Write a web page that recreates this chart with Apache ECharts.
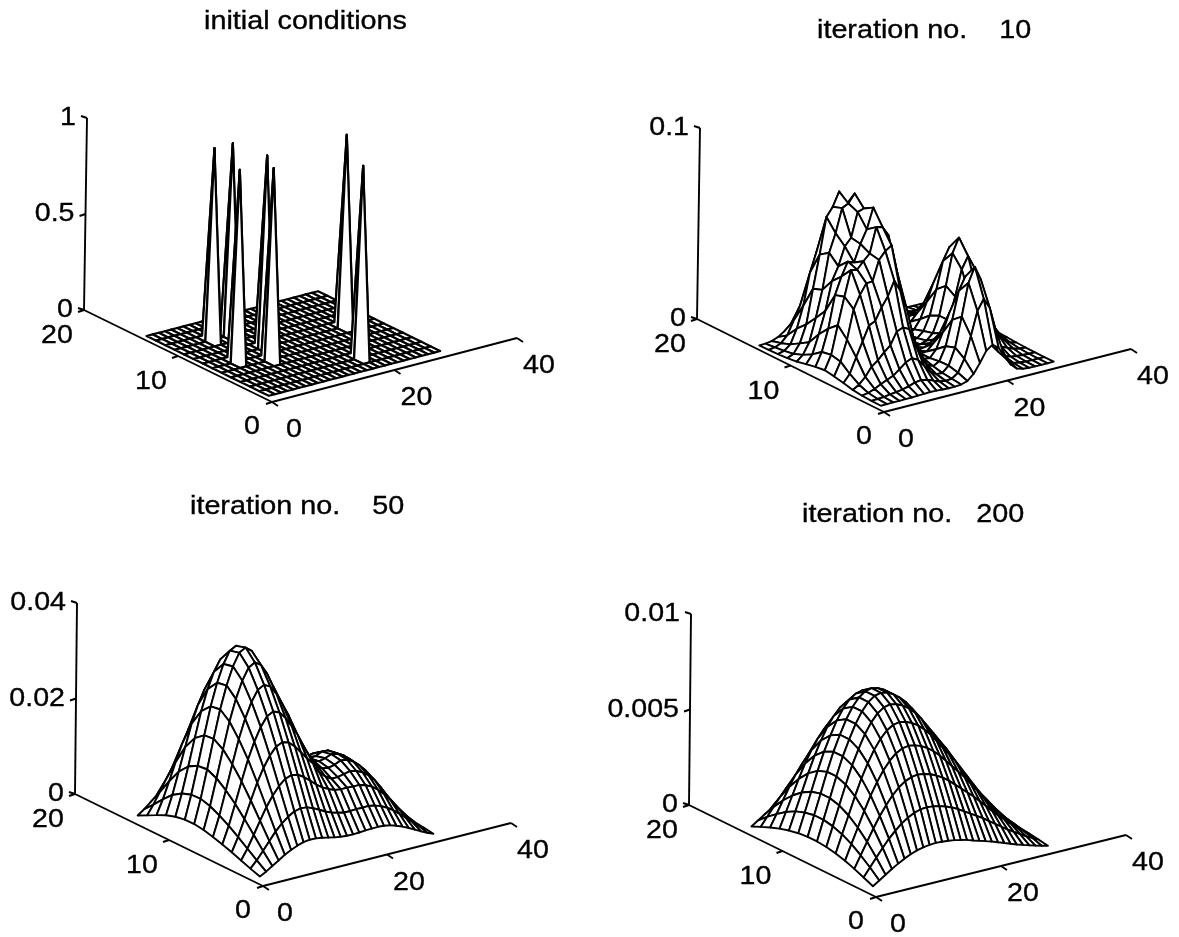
<!DOCTYPE html>
<html><head><meta charset="utf-8">
<style>html,body{margin:0;background:#fff}#c{width:1179px;height:937px}</style>
<script src="https://cdn.jsdelivr.net/npm/echarts@6/dist/echarts.min.js"></script>
</head><body><div id="c"></div><script>
const xTicks=[0,20,40], yTicks=[0,10,20];
const zTicks1=[0,0.5,1], zTicks2=[0,0.1], zTicks3=[0,0.02,0.04], zTicks4=[0,0.005,0.01];
const zTickLabels1=['0','0.5','1'], zTickLabels2=['0','0.1'], zTickLabels3=['0','0.02','0.04'], zTickLabels4=['0','0.005','0.01'];
const titles=['initial conditions','iteration no.    10','iteration no.    50','iteration no.   200'];
const zUnits=[1,1e-4,1e-5,1e-5];
// surface heights: rows are y = 1..14, columns are x = 1..29
const initialZ=[
[0,0,0,0,0,0,0,0,0,0,0,0,0,0,0,0,0,0,0,0,0,0,0,0,0,0,0,0,0],
[0,0,0,0,0,0,0,0,0,0,0,0,0,0,0,0,0,0,0,0,0,0,0,0,0,0,0,0,0],
[0,0,0,0,0,0,0,0,0,0,0,0,0,0,0,0,0,0,1,0,0,0,0,0,0,0,0,0,0],
[0,0,0,0,0,0,0,0,0,0,0,0,0,0,0,0,0,0,0,0,0,0,0,0,0,0,0,0,0],
[0,0,0,0,0,0,0,0,0,0,0,0,0,0,0,0,0,0,0,0,0,0,0,0,0,0,0,0,0],
[0,0,0,0,0,0,0,0,1,0,0,0,0,0,0,0,0,0,0,0,0,0,0,0,0,0,0,0,0],
[0,0,0,0,1,0,0,0,0,0,0,0,0,0,0,0,0,0,0,0,0,0,0,0,0,0,0,0,0],
[0,0,0,0,0,0,0,0,0,0,1,0,0,0,0,0,0,0,0,0,0,0,0,1,0,0,0,0,0],
[0,0,0,0,0,0,0,0,0,0,0,0,0,0,0,0,0,0,0,0,0,0,0,0,0,0,0,0,0],
[0,0,0,0,0,0,0,0,0,0,0,0,0,0,0,0,0,0,0,0,0,0,0,0,0,0,0,0,0],
[0,0,0,0,0,0,1,0,0,1,0,0,0,0,0,0,0,0,0,0,0,0,0,0,0,0,0,0,0],
[0,0,0,0,0,0,0,0,0,0,0,0,0,0,0,0,0,0,0,0,0,0,0,0,0,0,0,0,0],
[0,0,0,0,0,0,0,0,0,0,0,0,0,0,0,0,0,0,0,0,0,0,0,0,0,0,0,0,0],
[0,0,0,0,0,0,0,0,0,0,0,0,0,0,0,0,0,0,0,0,0,0,0,0,0,0,0,0,0]];
const iter10Z=[
[0,0,1,1,2,2,4,5,6,5,3,1,1,4,14,43,92,147,172,147,92,43,14,4,1,0,0,0,0],
[1,3,5,10,14,19,28,39,44,38,25,12,7,10,33,97,208,331,386,331,209,98,35,10,4,1,0,0,0],
[4,10,23,39,53,67,92,120,134,117,78,40,18,16,46,132,286,454,530,455,289,138,54,22,11,6,3,1,0],
[10,29,61,106,132,165,194,257,271,254,168,98,43,27,44,115,245,389,455,393,256,138,77,54,40,24,11,4,1],
[22,61,139,214,289,305,368,417,491,429,337,191,99,41,37,75,154,246,289,256,187,142,135,136,112,70,33,11,3],
[32,101,207,358,426,478,480,584,622,643,492,341,171,78,36,39,72,114,138,137,141,185,252,284,242,152,70,24,6],
[40,112,259,400,531,525,561,593,723,716,664,446,262,107,43,20,26,41,54,77,136,252,386,447,382,241,112,38,9],
[33,103,217,384,473,543,530,619,687,793,694,541,293,134,42,12,8,11,22,53,136,284,447,520,446,281,130,44,11],
[23,66,163,277,425,494,590,627,753,764,734,505,300,121,40,10,3,4,11,40,113,241,382,446,382,241,112,38,9],
[12,39,97,216,355,541,635,758,774,818,664,480,242,103,29,8,1,1,6,24,70,152,241,281,241,152,70,24,6],
[6,20,67,158,336,507,695,740,812,727,619,377,198,70,23,5,0,1,3,11,33,70,111,130,111,70,33,11,3],
[3,11,37,111,223,389,488,580,558,541,399,260,117,45,13,3,0,0,1,4,11,24,38,44,38,24,11,4,1],
[1,5,19,52,121,191,267,283,302,260,210,121,58,19,5,1,0,0,0,1,3,6,9,11,9,6,3,1,0],
[0,1,6,18,39,66,88,98,99,90,68,41,19,6,1,0,0,0,0,0,1,1,2,2,2,1,1,0,0]];
const iter50Z=[
[69,138,222,307,392,460,517,557,576,572,551,523,494,473,462,457,463,474,478,484,472,449,408,355,294,226,157,94,40],
[138,277,443,613,781,916,1026,1104,1137,1123,1074,1008,939,883,846,819,813,823,820,824,799,756,688,598,492,379,265,157,67],
[212,425,680,941,1196,1403,1571,1689,1736,1711,1631,1522,1407,1313,1244,1193,1174,1177,1166,1168,1129,1067,968,841,693,533,371,221,94],
[287,573,916,1268,1612,1888,2112,2269,2329,2291,2177,2021,1857,1717,1500,1380,1300,1300,1330,1360,1330,1270,1170,1039,855,657,458,273,116],
[356,711,1136,1574,1998,2340,2614,2806,2875,2822,2672,2469,2251,1980,1730,1540,1420,1400,1430,1490,1470,1400,1290,1150,960,737,514,306,130],
[415,830,1324,1834,2327,2725,3042,3262,3337,3267,3085,2835,2568,2230,1900,1640,1500,1440,1470,1520,1500,1430,1320,1190,1007,773,540,321,137],
[464,929,1479,2050,2600,3042,3392,3633,3711,3624,3407,3112,2795,2380,1980,1680,1480,1410,1420,1480,1470,1400,1300,1170,976,750,523,310,132],
[494,988,1570,2178,2761,3229,3596,3849,3925,3823,3581,3250,2894,2430,1980,1640,1400,1290,1290,1340,1340,1290,1210,1080,887,681,474,281,120],
[489,978,1552,2154,2730,3191,3551,3797,3866,3758,3509,3168,2800,2330,1870,1520,1270,1130,1120,1150,1160,1120,1060,927,754,578,403,238,102],
[454,909,1441,2001,2534,2962,3292,3519,3579,3472,3233,2907,2553,2120,1680,1360,1110,960,930,950,950,920,875,749,607,465,324,190,81],
[390,781,1237,1717,2173,2540,2822,3015,3063,2967,2758,2470,2158,1859,1430,1120,900,770,730,740,730,741,662,565,456,350,243,143,61],
[296,593,939,1304,1650,1927,2140,2285,2321,2246,2083,1862,1620,1387,1070,830,660,550,520,520,566,508,452,385,310,237,165,96,42],
[193,385,610,847,1072,1252,1390,1483,1505,1455,1348,1201,1042,887,750,627,535,469,411,378,336,299,265,225,181,138,96,56,24],
[94,188,297,413,522,609,676,722,732,707,654,583,504,428,359,298,252,219,190,173,153,135,120,102,80,62,43,25,10]];
const iter200Z=[
[24,46,68,90,110,128,143,155,163,168,170,168,165,160,153,145,134,124,114,104,92,80,68,56,46,36,26,17,9],
[46,90,133,176,216,249,279,302,319,329,332,329,322,312,299,282,262,242,222,203,179,156,133,110,90,70,50,33,17],
[67,129,192,254,311,359,402,436,460,474,479,474,465,450,431,407,378,350,321,292,259,225,192,158,129,101,72,48,24],
[85,164,242,321,394,455,509,551,582,600,606,600,588,570,545,515,479,442,406,370,327,285,242,200,164,127,91,61,30],
[99,191,282,374,459,530,593,642,678,699,706,699,685,664,635,600,558,515,473,431,381,332,282,233,191,148,106,71,35],
[109,209,310,411,504,581,651,705,744,767,775,767,752,729,698,659,612,566,519,473,419,364,310,256,209,163,116,78,39],
[114,219,324,430,527,608,681,738,779,803,811,803,787,762,730,689,641,592,543,495,438,381,324,268,219,170,122,81,41],
[114,219,324,430,527,608,681,738,779,803,811,803,787,762,730,689,641,592,543,495,438,381,324,268,219,170,122,81,41],
[109,209,310,411,504,581,651,705,744,767,775,767,752,729,698,659,612,566,519,473,419,364,310,256,209,163,116,78,39],
[99,191,282,374,459,530,593,642,678,699,706,699,685,664,635,600,558,515,473,431,381,332,282,233,191,148,106,71,35],
[85,164,242,321,394,455,509,551,582,600,606,600,588,570,545,515,479,442,406,370,327,285,242,200,164,127,91,61,30],
[67,129,192,254,311,359,402,436,460,474,479,474,465,450,431,407,378,350,321,292,259,225,192,158,129,101,72,48,24],
[46,90,133,176,216,249,279,302,319,329,332,329,322,312,299,282,262,242,222,203,179,156,133,110,90,70,50,33,17],
[24,46,68,90,110,128,143,155,163,168,170,168,165,160,153,145,134,124,114,104,92,80,68,56,46,36,26,17,9]];

const FONT='"Liberation Sans", Arial, sans-serif';
const panels=[
 {O:[272,402],X:[517,338],Y:[84,310],Z:[87,118],zMax:1,rows:initialZ,unit:zUnits[0],zT:zTicks1,zL:zTickLabels1,title:titles[0],tx:204,ty:22,lw:2.2},
 {O:[884,412],X:[1131,349],Y:[697,319],Z:[700,128],zMax:0.1,rows:iter10Z,unit:zUnits[1],zT:zTicks2,zL:zTickLabels2,title:titles[1],tx:817,ty:31,lw:1.9},
 {O:[263,886],X:[511,823],Y:[75,794],Z:[77,603],zMax:0.04,rows:iter50Z,unit:zUnits[2],zT:zTicks3,zL:zTickLabels3,title:titles[2],tx:190,ty:507,lw:1.9},
 {O:[876,897],X:[1126,835],Y:[689,805],Z:[691,614],zMax:0.01,rows:iter200Z,unit:zUnits[3],zT:zTicks4,zL:zTickLabels4,title:titles[3],tx:802,ty:515,lw:1.9}
];
const grids=[],xAxes=[],yAxes=[],series=[];
panels.forEach((p,k)=>{
  const g={left:p.Y[0],top:p.Z[1],width:p.X[0]-p.Y[0],height:p.O[1]-p.Z[1]};
  grids.push(g);
  xAxes.push({gridIndex:k,type:'value',min:0,max:1,show:false});
  yAxes.push({gridIndex:k,type:'value',min:0,max:1,show:false});
  const proj=(x,y,z)=>{
    const sx=p.O[0]+x/40*(p.X[0]-p.O[0])+y/20*(p.Y[0]-p.O[0])+z/p.zMax*(p.Z[0]-p.Y[0]);
    const sy=p.O[1]+x/40*(p.X[1]-p.O[1])+y/20*(p.Y[1]-p.O[1])+z/p.zMax*(p.Z[1]-p.Y[1]);
    return [(sx-g.left)/g.width,1-(sy-g.top)/g.height];
  };
  // axes, ticks and labels
  const items=[];
  items.push({t:'line',a:[0,0,0],b:[40,0,0]});
  items.push({t:'line',a:[0,0,0],b:[0,20,0]});
  items.push({t:'line',a:[0,20,0],b:[0,20,p.zMax]});
  xTicks.forEach(v=>items.push({t:'tick',a:[v,0,0],d:[6,4],label:String(v),off:[22,28],align:'center'}));
  yTicks.forEach(v=>items.push({t:'tick',a:[0,v,0],d:[-6,2],label:String(v),off:v===0?[-20,25]:[-27,26],align:'center'}));
  p.zT.forEach((v,n)=>{
    const mid=n>0&&n<p.zT.length-1;
    items.push({t:'tick',a:[0,20,v],d:[-6,mid?2:-2],label:p.zL[n],off:[-11,0],align:'right'});
  });
  items.push({t:'title',label:p.title});
  series.push({type:'custom',xAxisIndex:k,yAxisIndex:k,clip:false,silent:true,z:1,
    data:items.map((_,i)=>[i]),
    renderItem(params,api){
      const it=items[params.dataIndex];
      const txt=(x,y,s,size,align,sc)=>({type:'text',x,y,scaleX:sc,style:{text:s,x:0,y:0,font:size+'px '+FONT,align,verticalAlign:'middle',fill:'#000',stroke:'#000',lineWidth:0.35}});
      if(it.t==='title') return txt(p.tx,p.ty,it.label,25,'left',1.15);
      const line=(a,b)=>({type:'line',shape:{x1:a[0],y1:a[1],x2:b[0],y2:b[1]},style:{stroke:'#000',lineWidth:1.9}});
      const A=api.coord(proj(...it.a));
      if(it.t==='line') return line(A,api.coord(proj(...it.b)));
      return {type:'group',children:[
        line(A,[A[0]+it.d[0],A[1]+it.d[1]]),
        txt(A[0]+it.off[0],A[1]+it.off[1],it.label,26,it.align,1.1)]};
    }});
  // surface: quads listed back to front
  const quads=[];
  for(let j=p.rows.length-2;j>=0;j--) for(let i=p.rows[0].length-2;i>=0;i--)
    quads.push([i,j,p.rows[j][i],p.rows[j][i+1],p.rows[j+1][i+1],p.rows[j+1][i]]);
  series.push({type:'custom',xAxisIndex:k,yAxisIndex:k,clip:false,silent:true,z:2,progressive:0,
    data:quads,
    renderItem(params,api){
      const i=api.value(0),j=api.value(1),u=p.unit;
      const pts=[
        proj(i+1,j+1,api.value(2)*u),proj(i+2,j+1,api.value(3)*u),
        proj(i+2,j+2,api.value(4)*u),proj(i+1,j+2,api.value(5)*u)].map(q=>api.coord(q));
      return {type:'polygon',shape:{points:pts},style:{fill:'#fff',stroke:'#000',lineWidth:p.lw,lineJoin:'round'}};
    }});
});
const chart=echarts.init(document.getElementById('c'),null,{renderer:'canvas'});
chart.setOption({animation:false,backgroundColor:'#fff',grid:grids,xAxis:xAxes,yAxis:yAxes,series});
</script></body></html>
